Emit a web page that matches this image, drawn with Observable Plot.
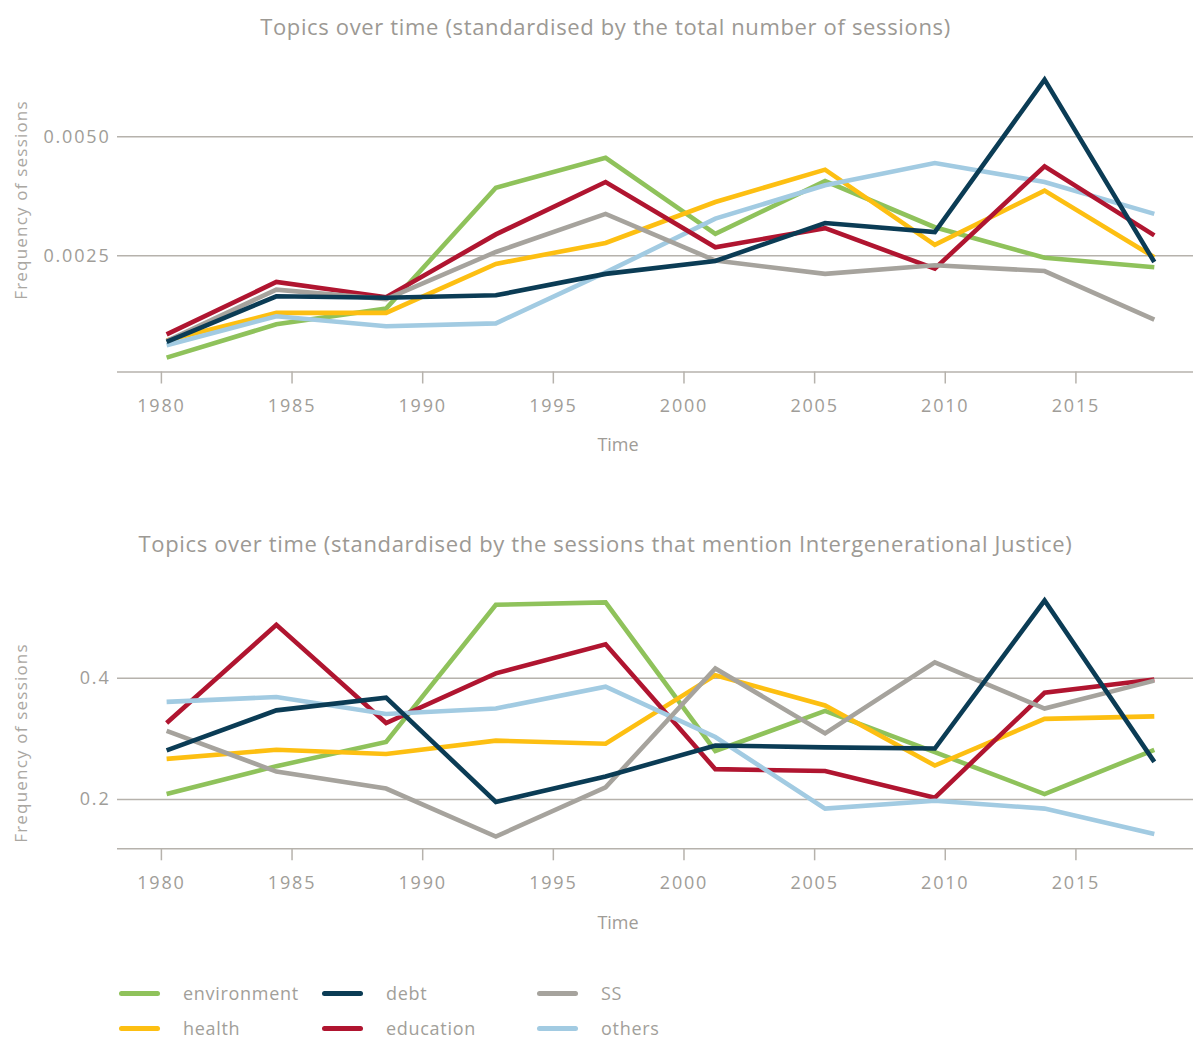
<!DOCTYPE html>
<html>
<head>
<meta charset="utf-8">
<script src="https://cdn.jsdelivr.net/npm/d3@7"></script>
<script src="https://cdn.jsdelivr.net/npm/@observablehq/plot@0.6"></script>
<style>
  html, body { margin: 0; padding: 0; background: #ffffff; }
  body { width: 1193px; height: 1039px; position: relative; overflow: hidden; font-family: "Open Sans", "Noto Sans", sans-serif; color: #9f9c97; }
  .title { position: absolute; left: 0; width: 1211px; text-align: center; font-size: 22px; letter-spacing: 0.65px; line-height: 1; white-space: nowrap; color: #9c9994; }
  .ylab { position: absolute; transform: translate(-50%, -50%) rotate(-90deg); white-space: nowrap; font-size: 17px; letter-spacing: 1.2px; color: #aaa7a2; }
  .xlab { position: absolute; transform: translate(-50%, -50%); font-size: 18px; color: #9f9c97; }
  .chart { position: absolute; left: 0; }
  .chart svg text { letter-spacing: 1.8px; }
  .legend { position: absolute; left: 0; top: 0; }
  .item { position: absolute; display: flex; align-items: center; font-size: 18px; letter-spacing: 0.7px; color: #a29f9a; transform: translateY(-50%); white-space: nowrap; }
  .sw { width: 41px; height: 5px; border-radius: 3px; margin-right: 23px; }
</style>
</head>
<body>
<div class="title" style="top:15px">Topics over time (standardised by the total number of sessions)</div>
<div class="ylab" style="left:20px; top:200px">Frequency of sessions</div>
<div class="chart" id="c1" style="top:50px"></div>
<div class="xlab" style="left:618px; top:444px">Time</div>

<div class="title" style="top:532px">Topics over time (standardised by the sessions that mention Intergenerational Justice)</div>
<div class="ylab" style="left:20px; top:743px">Frequency of sessions</div>
<div class="chart" id="c2" style="top:580px"></div>
<div class="xlab" style="left:618px; top:922px">Time</div>

<div class="legend" id="legend"></div>

<script>
// ---- data ----
const years = [1980.2, 1984.4, 1988.6, 1992.8, 1997.0, 2001.2, 2005.4, 2009.6, 2013.8, 2018.0];
const topics = ["environment", "health", "debt", "education", "SS", "others"];
const topicColors = ["#8fc25b", "#fdbf12", "#0b3c55", "#b01530", "#a6a39d", "#a2cbe2"];
const xTickYears = [1980, 1985, 1990, 1995, 2000, 2005, 2010, 2015];

// panel 1: standardised by total number of sessions
const environment1 = [0.00036, 0.00106, 0.00139, 0.00393, 0.00456, 0.00296, 0.00407, 0.00310, 0.00246, 0.00226];
const health1      = [0.00072, 0.00130, 0.00130, 0.00233, 0.00277, 0.00363, 0.00431, 0.00273, 0.00387, 0.00247];
const debt1        = [0.00069, 0.00165, 0.00162, 0.00167, 0.00212, 0.00239, 0.00319, 0.00300, 0.00620, 0.00237];
const education1   = [0.00085, 0.00195, 0.00163, 0.00295, 0.00405, 0.00268, 0.00308, 0.00223, 0.00438, 0.00293];
const ss1          = [0.00071, 0.00179, 0.00159, 0.00258, 0.00338, 0.00240, 0.00212, 0.00230, 0.00218, 0.00116];
const others1      = [0.00062, 0.00123, 0.00102, 0.00108, 0.00215, 0.00328, 0.00398, 0.00445, 0.00405, 0.00338];
const yTicks1 = [0.0025, 0.0050];

// panel 2: standardised by sessions mentioning Intergenerational Justice
const environment2 = [0.209, 0.255, 0.295, 0.521, 0.525, 0.280, 0.346, 0.278, 0.209, 0.282];
const health2      = [0.267, 0.282, 0.275, 0.297, 0.292, 0.405, 0.355, 0.256, 0.333, 0.337];
const debt2        = [0.281, 0.347, 0.368, 0.196, 0.238, 0.289, 0.286, 0.284, 0.528, 0.262];
const education2   = [0.326, 0.488, 0.326, 0.408, 0.456, 0.250, 0.247, 0.203, 0.376, 0.398];
const ss2          = [0.313, 0.246, 0.218, 0.139, 0.220, 0.416, 0.309, 0.426, 0.350, 0.396];
const others2      = [0.361, 0.369, 0.341, 0.350, 0.386, 0.303, 0.185, 0.198, 0.185, 0.143];
const yTicks2 = [0.2, 0.4];

// ---- build ----
const gridColor = "#b6b2ac";
const textColor = "#a09d98";
const colorOf = Object.fromEntries(topics.map((t, i) => [t, topicColors[i]]));

function toRows(series) {
  const rows = [];
  for (const t of Object.keys(series)) {
    series[t].forEach((v, i) => rows.push({topic: t, year: years[i], value: v}));
  }
  return rows;
}

function panel({series, order, yDomain, yTicks, yFormat, height, marginTop, marginBottom}) {
  const rows = toRows(series);
  return Plot.plot({
    width: 1193,
    height,
    marginLeft: 117,
    marginRight: 0,
    marginTop,
    marginBottom,
    style: {fontFamily: "'Open Sans', 'Noto Sans', sans-serif", fontSize: "18px", color: textColor, background: "transparent", overflow: "visible"},
    x: {domain: [1978.32, 2019.5], axis: null},
    y: {domain: yDomain, axis: null},
    marks: [
      Plot.gridY(yTicks, {stroke: gridColor, strokeOpacity: 1, strokeWidth: 1.4}),
      Plot.ruleY([yDomain[0]], {stroke: gridColor, strokeWidth: 1.6}),
      Plot.axisX(xTickYears, {tickSize: 12, tickPadding: 15, stroke: gridColor, strokeWidth: 1.5, strokeOpacity: 1, fill: textColor, fontSize: 18, tickFormat: d3.format("d"), label: null}),
      Plot.axisY(yTicks, {tickSize: 0, tickPadding: 7, fill: textColor, fontSize: 18, tickFormat: d3.format(yFormat), label: null}),
      ...order.map(t => Plot.line(rows.filter(r => r.topic === t), {
        x: "year", y: "value",
        stroke: colorOf[t], strokeWidth: 4.6,
        strokeLinejoin: "miter", strokeMiterlimit: 10, strokeLinecap: "butt"
      }))
    ]
  });
}

// panel 1: bottom axis line at y=371.5 (svg top 50), top at y=65
const top1 = panel({
  series: {environment: environment1, health: health1, debt: debt1, education: education1, SS: ss1, others: others1},
  order: ["environment", "health", "others", "education", "SS", "debt"],
  yDomain: [0.0000588, 0.006498],
  yTicks: yTicks1, yFormat: ".4f",
  height: 370, marginTop: 15, marginBottom: 48.5
});
document.getElementById("c1").appendChild(top1);

// panel 2: bottom axis line at y=848.3 (svg top 580), top at y=590
const top2 = panel({
  series: {environment: environment2, health: health2, debt: debt2, education: education2, SS: ss2, others: others2},
  order: ["environment", "health", "education", "others", "SS", "debt"],
  yDomain: [0.1187, 0.5446],
  yTicks: yTicks2, yFormat: ".1f",
  height: 320, marginTop: 10, marginBottom: 51.7
});
document.getElementById("c2").appendChild(top2);

// legend
const legendLayout = [
  ["environment", 119, 993], ["debt", 322, 993], ["SS", 537, 993],
  ["health", 119, 1028], ["education", 322, 1028], ["others", 537, 1028]
];
const lg = document.getElementById("legend");
for (const [t, x, y] of legendLayout) {
  const d = document.createElement("div");
  d.className = "item";
  d.style.left = x + "px";
  d.style.top = y + "px";
  const sw = document.createElement("span");
  sw.className = "sw";
  sw.style.background = colorOf[t];
  const tx = document.createElement("span");
  tx.textContent = t;
  d.appendChild(sw); d.appendChild(tx);
  lg.appendChild(d);
}
</script>
</body>
</html>
